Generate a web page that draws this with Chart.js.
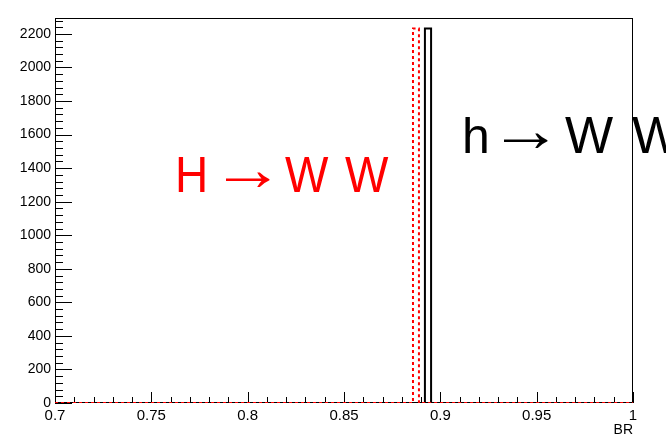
<!DOCTYPE html>
<html>
<head>
<meta charset="utf-8">
<script src="https://cdn.jsdelivr.net/npm/chart.js@4.4.1/dist/chart.umd.min.js"></script>
<style>
  html, body { margin: 0; padding: 0; background: #fff; }
  #wrap { width: 666px; height: 436px; }
</style>
</head>
<body>
<div id="wrap"><canvas id="graficoBR"></canvas></div>
<script>
// BR histograms: a single filled bin each, all other bins empty
const xLimites = [0.7, 1]
const binH = [0.8858, 0.8889]   // H -> WW, edges of the filled bin
const binh = [0.8920, 0.8952]   // h -> WW
const contagemH = 2232
const contagemh = 2232
const yMax = 2295
const xTicks = [0.7, 0.75, 0.8, 0.85, 0.9, 0.95, 1]
const yTicks = [0, 200, 400, 600, 800, 1000, 1200, 1400, 1600, 1800, 2000, 2200]

// outline of a histogram with one non-empty bin
function contorno(bin, contagem){
  return [
    {x: xLimites[0], y: 0},
    {x: bin[0], y: 0},
    {x: bin[0], y: contagem},
    {x: bin[1], y: contagem},
    {x: bin[1], y: 0},
    {x: xLimites[1], y: 0}
  ]
}

function linha(ctx, x1, y1, x2, y2){
  ctx.beginPath()
  ctx.moveTo(x1, y1)
  ctx.lineTo(x2, y2)
  ctx.stroke()
}

// text placed by the left edge of its ink, optionally stretched vertically
function texto(ctx, s, esquerda, base, tamanho, sy){
  ctx.font = tamanho + 'px "Liberation Sans"'
  const m = ctx.measureText(s)
  ctx.save()
  ctx.translate(esquerda + m.actualBoundingBoxLeft, base)
  ctx.scale(1, sy)
  ctx.fillText(s, 0, 0)
  ctx.restore()
}

// long arrow, stretched to go from x0 to x1, centred on yc
function seta(ctx, x0, x1, yc, tamanho){
  ctx.font = tamanho + 'px "Liberation Sans"'
  const m = ctx.measureText('\u2192')
  const w = m.actualBoundingBoxLeft + m.actualBoundingBoxRight
  const meio = (m.actualBoundingBoxAscent - m.actualBoundingBoxDescent) / 2
  ctx.save()
  ctx.translate(x0, yc)
  ctx.scale((x1 - x0) / w, 1)
  ctx.fillText('\u2192', m.actualBoundingBoxLeft, meio)
  ctx.restore()
}

// frame and inward ticks, ROOT style
const moldura = {
  id: 'moldura',
  beforeDatasetsDraw(chart){
    const {ctx, chartArea: a, scales: {x, y}} = chart
    ctx.save()
    ctx.strokeStyle = '#000'
    ctx.lineWidth = 1
    ctx.strokeRect(Math.round(a.left) + 0.5, Math.round(a.top) + 0.5,
      Math.round(a.right - a.left) - 1, Math.round(a.bottom - a.top) - 1)
    for (let i = 0; i <= 30; i++){
      const px = Math.round(x.getPixelForValue(xLimites[0] + i * 0.01)) + 0.5
      const len = i % 5 === 0 ? 11 : 6
      linha(ctx, px, a.bottom, px, a.bottom - len)
    }
    for (let v = 0; v <= yMax; v += 40){
      const py = Math.round(y.getPixelForValue(v)) + 0.5
      const len = v % 200 === 0 ? 17 : 8
      linha(ctx, a.left, py, a.left + len, py)
    }
    ctx.restore()
  },
  afterDraw(chart){
    const {ctx, chartArea: a} = chart
    ctx.save()
    ctx.textBaseline = 'alphabetic'
    ctx.textAlign = 'left'

    ctx.fillStyle = '#ff0000'
    texto(ctx, 'H', 178, 192, 46, 1.09)
    seta(ctx, 225, 270, 179, 62)
    texto(ctx, 'W', 285, 192, 46, 1.09)
    texto(ctx, 'W', 345, 192, 46, 1.09)

    ctx.fillStyle = '#000'
    texto(ctx, 'h', 465, 153, 50, 1.0)
    seta(ctx, 503, 548, 140, 62)
    texto(ctx, 'W', 565, 153, 51, 1.0)
    texto(ctx, 'W', 632, 153, 51, 1.0)

    ctx.font = '14px "Liberation Sans"'
    ctx.textAlign = 'right'
    ctx.fillText('BR', a.right, 434)
    ctx.restore()
  }
}

const grafico = new Chart(document.querySelector('#graficoBR'), {
  type: 'scatter',
  data: {
    datasets: [{
      label: 'H',
      data: contorno(binH, contagemH),
      showLine: true,
      borderColor: '#ff0000',
      borderWidth: 2,
      borderDash: [3, 3],
      pointRadius: 0,
      order: 0
    }, {
      label: 'h',
      data: contorno(binh, contagemh),
      showLine: true,
      borderColor: '#000',
      borderWidth: 2,
      pointRadius: 0,
      order: 1
    }]
  },
  options: {
    responsive: true,
    maintainAspectRatio: false,
    animation: false,
    events: [],
    layout: { padding: { top: 18, right: 33, left: 0, bottom: 0 } },
    plugins: { legend: { display: false }, tooltip: { enabled: false } },
    scales: {
      x: {
        type: 'linear',
        min: xLimites[0],
        max: xLimites[1],
        grid: { display: false, drawTicks: false },
        border: { display: false },
        afterBuildTicks: s => { s.ticks = xTicks.map(v => ({value: v})) },
        afterFit: s => { s.height = 33 },
        ticks: {
          callback: v => String(v),
          font: { family: 'Liberation Sans', size: 15 },
          color: '#000',
          padding: 4,
          maxRotation: 0,
          autoSkip: false
        }
      },
      y: {
        min: 0,
        max: yMax,
        grid: { display: false, drawTicks: false },
        border: { display: false },
        afterBuildTicks: s => { s.ticks = yTicks.map(v => ({value: v})) },
        afterFit: s => { s.width = 55 },
        ticks: {
          callback: v => String(v),
          font: { family: 'Liberation Sans', size: 14 },
          color: '#000',
          padding: 4,
          autoSkip: false
        }
      }
    }
  },
  plugins: [moldura]
})
</script>
</body>
</html>
